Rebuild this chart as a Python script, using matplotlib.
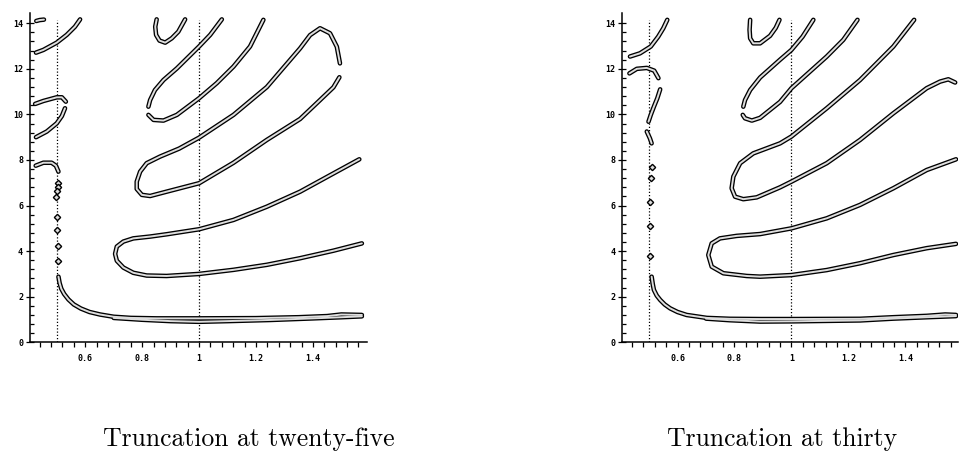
"""
Solution branches for the truncated system, truncation at 25 and at 30 terms.
"""

import numpy as np
import matplotlib.pyplot as plt

# ---------------- truncation at twenty-five ----------------
T25_A_X = [0.506, 0.510, 0.516, 0.526, 0.541, 0.560, 0.585, 0.615, 0.652, 0.70, 0.76, 0.85, 1.0, 1.2, 1.35, 1.45, 1.50, 1.572]
T25_A_Y = [2.88, 2.60, 2.35, 2.12, 1.88, 1.66, 1.48, 1.33, 1.22, 1.12, 1.07, 1.05, 1.05, 1.06, 1.10, 1.15, 1.22, 1.20]
T25_A2_X = [0.70, 0.80, 0.90, 1.0, 1.10, 1.25, 1.40, 1.50, 1.572]
T25_A2_Y = [1.07, 0.99, 0.93, 0.90, 0.93, 0.98, 1.05, 1.10, 1.14]

T25_B_X = [1.572, 1.472, 1.355, 1.238, 1.121, 1.0, 0.886, 0.816, 0.769, 0.734, 0.711, 0.705,
           0.711, 0.734, 0.769, 0.828, 0.886, 1.0, 1.121, 1.238, 1.355, 1.472, 1.563]
T25_B_Y = [4.34, 4.02, 3.69, 3.40, 3.18, 3.00, 2.91, 2.93, 3.05, 3.28, 3.58, 3.88,
           4.20, 4.42, 4.56, 4.64, 4.74, 4.96, 5.37, 5.95, 6.61, 7.41, 8.03]

T25_C_X = [1.493, 1.472, 1.425, 1.355, 1.238, 1.121, 1.0, 0.886, 0.828, 0.799, 0.781, 0.781, 0.793,
           0.816, 0.863, 0.93, 1.0, 1.121, 1.238, 1.355, 1.39, 1.425, 1.46, 1.484, 1.495]
T25_C_Y = [11.63, 11.19, 10.63, 9.80, 8.88, 7.88, 6.98, 6.61, 6.42, 6.47, 6.73, 7.05, 7.49,
           7.86, 8.15, 8.50, 8.98, 9.98, 11.20, 12.90, 13.48, 13.78, 13.56, 12.97, 12.24]

T25_D1_X = [0.822, 0.828, 0.845, 0.875, 0.922, 1.0, 1.039, 1.080]
T25_D1_Y = [10.34, 10.63, 11.07, 11.51, 12.02, 12.98, 13.49, 14.17]
T25_D2_X = [0.822, 0.840, 0.875, 0.922, 1.0, 1.062, 1.121, 1.179, 1.226]
T25_D2_Y = [9.98, 9.76, 9.73, 9.98, 10.71, 11.37, 12.10, 12.98, 14.15]

T25_E_X = [0.851, 0.846, 0.849, 0.861, 0.881, 0.904, 0.927, 0.951]
T25_E_Y = [14.17, 13.85, 13.49, 13.24, 13.15, 13.34, 13.63, 14.17]

T25_F_X = [0.428, 0.440, 0.455]
T25_F_Y = [14.10, 14.14, 14.16]
T25_G_X = [0.427, 0.453, 0.500, 0.535, 0.564, 0.582]
T25_G_Y = [12.71, 12.83, 13.15, 13.49, 13.85, 14.17]
T25_H_X = [0.424, 0.453, 0.500, 0.518, 0.532]
T25_H_Y = [10.46, 10.59, 10.75, 10.75, 10.56]
T25_I_X = [0.427, 0.465, 0.500, 0.518, 0.529]
T25_I_Y = [9.00, 9.25, 9.61, 9.93, 10.27]
T25_J_X = [0.426, 0.453, 0.482, 0.497, 0.506]
T25_J_Y = [7.75, 7.88, 7.88, 7.75, 7.49]

T25_PTS_X = [0.503, 0.504, 0.501, 0.497, 0.500, 0.501, 0.503, 0.503]
T25_PTS_Y = [6.98, 6.80, 6.62, 6.38, 5.49, 4.93, 4.24, 3.58]

# ---------------- truncation at thirty ----------------
T30_A_X = [0.509, 0.513, 0.517, 0.527, 0.539, 0.555, 0.574, 0.600, 0.632, 0.703, 0.784, 0.89, 1.0, 1.241, 1.358, 1.475, 1.54, 1.578]
T30_A_Y = [2.88, 2.55, 2.30, 2.05, 1.86, 1.66, 1.49, 1.33, 1.20, 1.07, 1.03, 1.02, 1.02, 1.03, 1.10, 1.16, 1.22, 1.20]
T30_A2_X = [0.70, 0.784, 0.89, 1.0, 1.12, 1.241, 1.358, 1.475, 1.578]
T30_A2_Y = [1.04, 0.97, 0.91, 0.92, 0.94, 0.96, 1.04, 1.10, 1.15]

T30_B_X = [1.578, 1.475, 1.358, 1.241, 1.124, 1.0, 0.89, 0.843, 0.761, 0.720, 0.708,
           0.720, 0.749, 0.808, 0.89, 1.0, 1.124, 1.241, 1.358, 1.475, 1.578]
T30_B_Y = [4.32, 4.13, 3.83, 3.47, 3.17, 2.95, 2.88, 2.91, 3.03, 3.32, 3.83,
           4.34, 4.56, 4.67, 4.75, 5.00, 5.44, 6.03, 6.76, 7.56, 8.03]

T30_C_X = [1.575, 1.551, 1.522, 1.475, 1.358, 1.241, 1.124, 1.0, 0.960, 0.878, 0.831, 0.802, 0.790,
           0.796, 0.820, 0.866, 0.960, 1.0, 1.124, 1.241, 1.358, 1.431]
T30_C_Y = [11.40, 11.54, 11.44, 11.15, 10.05, 8.88, 7.86, 7.05, 6.80, 6.36, 6.28, 6.39, 6.76,
           7.27, 7.86, 8.29, 8.73, 9.03, 10.27, 11.51, 12.98, 14.15]

T30_D1_X = [0.831, 0.837, 0.855, 0.890, 0.960, 1.0, 1.039, 1.077]
T30_D1_Y = [10.34, 10.63, 11.07, 11.62, 12.40, 12.83, 13.41, 14.15]
T30_D2_X = [0.829, 0.837, 0.861, 0.890, 0.960, 1.0, 1.124, 1.182, 1.232]
T30_D2_Y = [9.98, 9.83, 9.73, 9.85, 10.55, 11.15, 12.54, 13.27, 14.15]

T30_E_X = [0.855, 0.853, 0.855, 0.866, 0.890, 0.925, 0.945, 0.958]
T30_E_Y = [14.15, 13.71, 13.34, 13.12, 13.12, 13.45, 13.80, 14.15]

T30_G_X = [0.433, 0.468, 0.506, 0.532, 0.550, 0.564]
T30_G_Y = [12.54, 12.68, 12.98, 13.41, 13.78, 14.15]
T30_H_X = [0.431, 0.457, 0.492, 0.518, 0.533]
T30_H_Y = [11.80, 12.00, 12.04, 11.92, 11.59]
T30_I_X = [0.539, 0.529, 0.517, 0.506, 0.498]
T30_I_Y = [11.10, 10.71, 10.34, 9.98, 9.68]
T30_I2_X = [0.492, 0.503, 0.509]
T30_I2_Y = [9.25, 8.95, 8.73]

T30_PTS_X = [0.509, 0.506, 0.503, 0.503, 0.503]
T30_PTS_Y = [7.71, 7.23, 6.14, 5.12, 3.79]

X_TICKS = [0.6, 0.8, 1.0, 1.2, 1.4]
X_TICK_LABELS = ["0.6", "0.8", "1", "1.2", "1.4"]
Y_TICKS = [0, 2, 4, 6, 8, 10, 12, 14]
MARKED_X = [0.5, 1.0]

TITLES = ["Truncation at twenty-five", "Truncation at thirty"]


def draw_branch(ax, xs, ys):
    # hollow tube look: dark outline with a pale core
    ax.plot(xs, ys, color="black", lw=3.3, solid_capstyle="round", solid_joinstyle="round", zorder=3)
    ax.plot(xs, ys, color="#dedede", lw=1.4, solid_capstyle="round", solid_joinstyle="round", zorder=4)


def style_axes(ax, xlim):
    ax.set_xlim(*xlim)
    ax.set_ylim(0, 14.45)
    ax.spines["top"].set_visible(False)
    ax.spines["right"].set_visible(False)
    ax.spines["left"].set_linewidth(1.1)
    ax.spines["bottom"].set_linewidth(1.1)

    ax.set_xticks(X_TICKS)
    ax.set_xticklabels(X_TICK_LABELS)
    ax.set_xticks(np.arange(0.44, 1.57, 0.04), minor=True)
    ax.set_yticks(Y_TICKS)
    ax.set_yticks(np.arange(0.4, 14.3, 0.4), minor=True)

    ax.tick_params(axis="x", which="both", direction="out", length=3.5, width=0.9, pad=5)
    ax.tick_params(axis="y", which="major", direction="inout", length=6, width=0.9, pad=2)
    ax.tick_params(axis="y", which="minor", direction="in", length=3, width=0.9)
    for lab in ax.get_xticklabels() + ax.get_yticklabels():
        lab.set_fontfamily("DejaVu Sans Mono")
        lab.set_fontweight("bold")
        lab.set_fontsize(6)

    ax.vlines(MARKED_X, 0, 14.15, colors="black", linestyles=(0, (1, 1.6)), lw=0.9, zorder=2)


fig = plt.figure(figsize=(9.59, 4.53), dpi=100)
ax1 = fig.add_axes([0.03128, 0.24437, 0.35141, 0.72693])
ax2 = fig.add_axes([0.64860, 0.24437, 0.35036, 0.72693])

style_axes(ax1, (0.406, 1.590))
style_axes(ax2, (0.405, 1.585))

for xs, ys in [(T25_A_X, T25_A_Y), (T25_A2_X, T25_A2_Y), (T25_B_X, T25_B_Y), (T25_C_X, T25_C_Y),
               (T25_D1_X, T25_D1_Y), (T25_D2_X, T25_D2_Y), (T25_E_X, T25_E_Y), (T25_F_X, T25_F_Y),
               (T25_G_X, T25_G_Y), (T25_H_X, T25_H_Y), (T25_I_X, T25_I_Y), (T25_J_X, T25_J_Y)]:
    draw_branch(ax1, xs, ys)
ax1.plot(T25_PTS_X, T25_PTS_Y, "D", ms=3.2, mfc="#dedede", mec="black", mew=1.0, zorder=5)

for xs, ys in [(T30_A_X, T30_A_Y), (T30_A2_X, T30_A2_Y), (T30_B_X, T30_B_Y), (T30_C_X, T30_C_Y),
               (T30_D1_X, T30_D1_Y), (T30_D2_X, T30_D2_Y), (T30_E_X, T30_E_Y),
               (T30_G_X, T30_G_Y), (T30_H_X, T30_H_Y), (T30_I_X, T30_I_Y), (T30_I2_X, T30_I2_Y)]:
    draw_branch(ax2, xs, ys)
ax2.plot(T30_PTS_X, T30_PTS_Y, "D", ms=3.2, mfc="#dedede", mec="black", mew=1.0, zorder=5)

fig.text(249 / 959, 7 / 453, TITLES[0], family="cmr10", fontsize=18.5, ha="center", va="baseline")
fig.text(782 / 959, 7 / 453, TITLES[1], family="cmr10", fontsize=18.5, ha="center", va="baseline")

fig.savefig("out.png", dpi=100)
plt.close(fig)
